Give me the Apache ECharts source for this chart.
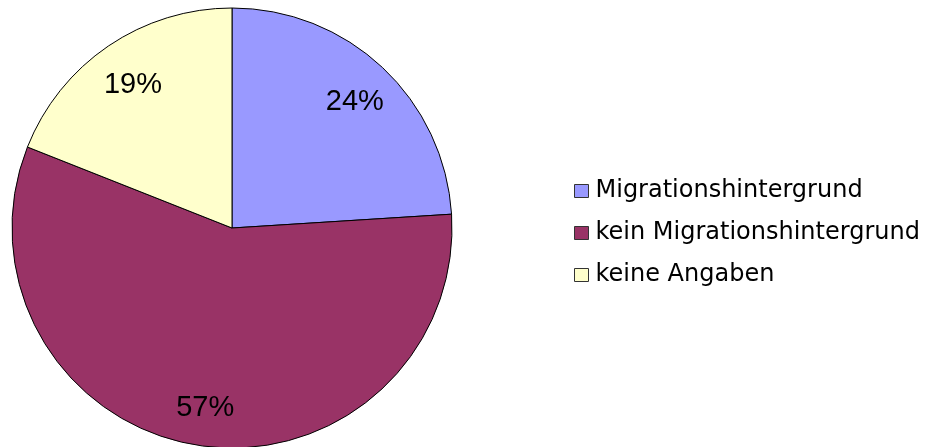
<!DOCTYPE html>
<html>
<head>
<meta charset="utf-8">
<script src="https://cdn.jsdelivr.net/npm/echarts@6/dist/echarts.min.js"></script>
<style>
  html, body { margin: 0; padding: 0; background: #fff; }
  #chart { width: 925px; height: 447px; }
</style>
</head>
<body>
<div id="chart"></div>
<script>
const categories = ['Migrationshintergrund', 'kein Migrationshintergrund', 'keine Angaben']
const values = [24, 57, 19]
const colors = ['#9999FF', '#993366', '#FFFFCC']

const pieData = categories.map((name, i) => ({
  name,
  value: values[i],
  itemStyle: { color: colors[i] }
}))

const chart = echarts.init(document.getElementById('chart'))
chart.setOption({
  animation: false,
  textStyle: { fontFamily: 'Liberation Sans, Arial, sans-serif' },
  legend: {
    orient: 'vertical',
    left: 569,
    top: 172,
    icon: 'rect',
    itemWidth: 14,
    itemHeight: 13,
    itemGap: 14,
    itemStyle: { borderColor: '#333', borderWidth: 1 },
    textStyle: {
      fontSize: 24,
      lineHeight: 28,
      fontFamily: 'DejaVu Sans',
      color: '#000',
      padding: [0, 0, 0, 2]
    },
    data: categories
  },
  series: [
    {
      // filled pie
      type: 'pie',
      center: [232, 228],
      radius: 220,
      startAngle: 90,
      clockwise: true,
      silent: true,
      label: { show: false },
      labelLine: { show: false },
      itemStyle: { borderColor: '#000', borderWidth: 1 },
      data: pieData
    },
    {
      // transparent ring just for label placement
      type: 'pie',
      center: [233, 232],
      radius: [130, 220],
      startAngle: 90,
      clockwise: true,
      silent: true,
      itemStyle: { color: 'transparent', borderWidth: 0 },
      label: {
        show: true,
        position: 'inside',
        formatter: '{d}%',
        fontSize: 29,
        color: '#000'
      },
      labelLine: { show: false },
      data: categories.map((name, i) => ({ name, value: values[i] }))
    }
  ]
})
</script>
</body>
</html>
